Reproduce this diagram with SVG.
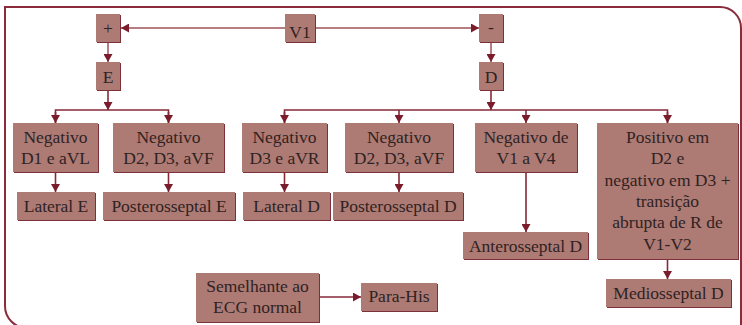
<svg xmlns="http://www.w3.org/2000/svg" width="742" height="325" viewBox="0 0 742 325">
  <style>
    .shadow { fill: #7d2f3a; }
    .box { fill: #ae7a74; }
    .lbl { font-family: "Liberation Serif", "DejaVu Serif", serif; font-size: 17.5px; fill: #2e2323; text-anchor: middle; }
    .frame { fill: none; stroke: #8a2c3c; stroke-width: 2; }
    .wire { fill: none; stroke: #852a38; stroke-width: 1.6; }
    .soft { fill: none; stroke: #b57f82; stroke-width: 2; }
  </style>
  <defs>
    <marker id="arrow" viewBox="0 0 8 9" refX="8" refY="4.5" markerWidth="8" markerHeight="9" markerUnits="userSpaceOnUse" orient="auto">
      <path d="M0,0 L8,4.5 L0,9 z" fill="#7a1c2c"/>
    </marker>
  </defs>

  <rect width="742" height="325" fill="#ffffff"/>

  <!-- outer frame with rounded top-right and bottom-left corners -->
  <path class="frame" d="M741,330 V28 A21,21 0 0 0 720,7 H5 V306 A22,22 0 0 0 27,328"/>

  <!-- connectors -->
  <g id="connectors">
    <line class="soft" x1="285" y1="28" x2="121" y2="28" marker-end="url(#arrow)"/>
    <line class="soft" x1="315" y1="28" x2="479" y2="28" marker-end="url(#arrow)"/>
    <line class="soft" x1="108" y1="42" x2="108" y2="62" marker-end="url(#arrow)"/>
    <line class="soft" x1="491" y1="42" x2="491" y2="62" marker-end="url(#arrow)"/>

    <line class="wire" x1="108" y1="90" x2="108" y2="110" marker-end="url(#arrow)"/>
    <polyline class="wire" points="55.5,123 55.5,110 168.5,110 168.5,123"/>
    <line class="wire" x1="55.5" y1="112" x2="55.5" y2="123" marker-end="url(#arrow)"/>
    <line class="wire" x1="168.5" y1="112" x2="168.5" y2="123" marker-end="url(#arrow)"/>

    <line class="wire" x1="491" y1="90" x2="491" y2="110" marker-end="url(#arrow)"/>
    <polyline class="wire" points="284.5,123 284.5,110 667.5,110 667.5,123"/>
    <line class="wire" x1="284.5" y1="112" x2="284.5" y2="123" marker-end="url(#arrow)"/>
    <line class="wire" x1="399" y1="110" x2="399" y2="123" marker-end="url(#arrow)"/>
    <line class="wire" x1="526" y1="110" x2="526" y2="123" marker-end="url(#arrow)"/>
    <line class="wire" x1="667.5" y1="112" x2="667.5" y2="123" marker-end="url(#arrow)"/>

    <line class="wire" x1="55.5" y1="172" x2="55.5" y2="192" marker-end="url(#arrow)"/>
    <line class="wire" x1="168.5" y1="172" x2="168.5" y2="192" marker-end="url(#arrow)"/>
    <line class="wire" x1="284.5" y1="172" x2="284.5" y2="192" marker-end="url(#arrow)"/>
    <line class="wire" x1="399" y1="172" x2="399" y2="192" marker-end="url(#arrow)"/>
    <line class="wire" x1="526" y1="172" x2="526" y2="232" marker-end="url(#arrow)"/>
    <line class="wire" x1="667.5" y1="259" x2="667.5" y2="279" marker-end="url(#arrow)"/>

    <line class="wire" x1="319" y1="297" x2="361" y2="297" marker-end="url(#arrow)"/>
  </g>

  <!-- top row -->
  <g id="plus">
    <rect class="shadow" x="97" y="15" width="24" height="28"/>
    <rect class="box" x="96" y="14" width="24" height="28"/>
    <text class="lbl" x="108" y="34">+</text>
  </g>
  <g id="v1">
    <rect class="shadow" x="286" y="15" width="30" height="28"/>
    <rect class="box" x="285" y="14" width="30" height="28"/>
    <text class="lbl" x="300" y="38">V1</text>
  </g>
  <g id="minus">
    <rect class="shadow" x="480" y="15" width="24" height="28"/>
    <rect class="box" x="479" y="14" width="24" height="28"/>
    <text class="lbl" x="491" y="33">-</text>
  </g>
  <g id="e">
    <rect class="shadow" x="97" y="63" width="24" height="28"/>
    <rect class="box" x="96" y="62" width="24" height="28"/>
    <text class="lbl" x="108" y="83">E</text>
  </g>
  <g id="d">
    <rect class="shadow" x="480" y="63" width="24" height="28"/>
    <rect class="box" x="479" y="62" width="24" height="28"/>
    <text class="lbl" x="491" y="83">D</text>
  </g>

  <!-- criteria row -->
  <g id="neg-d1-avl">
    <rect class="shadow" x="14" y="124" width="85" height="49"/>
    <rect class="box" x="13" y="123" width="85" height="49"/>
    <text class="lbl" x="55.5" y="143">Negativo</text>
    <text class="lbl" x="55.5" y="164">D1 e aVL</text>
  </g>
  <g id="neg-d2-d3-avf-e">
    <rect class="shadow" x="114" y="124" width="111" height="49"/>
    <rect class="box" x="113" y="123" width="111" height="49"/>
    <text class="lbl" x="168.5" y="143">Negativo</text>
    <text class="lbl" x="168.5" y="164">D2, D3, aVF</text>
  </g>
  <g id="neg-d3-avr">
    <rect class="shadow" x="243" y="124" width="85" height="49"/>
    <rect class="box" x="242" y="123" width="85" height="49"/>
    <text class="lbl" x="284.5" y="143">Negativo</text>
    <text class="lbl" x="284.5" y="164">D3 e aVR</text>
  </g>
  <g id="neg-d2-d3-avf-d">
    <rect class="shadow" x="346" y="124" width="108" height="49"/>
    <rect class="box" x="345" y="123" width="108" height="49"/>
    <text class="lbl" x="399" y="143">Negativo</text>
    <text class="lbl" x="399" y="164">D2, D3, aVF</text>
  </g>
  <g id="neg-v1-v4">
    <rect class="shadow" x="476" y="124" width="102" height="49"/>
    <rect class="box" x="475" y="123" width="102" height="49"/>
    <text class="lbl" x="526" y="143">Negativo de</text>
    <text class="lbl" x="526" y="164">V1 a V4</text>
  </g>
  <g id="pos-d2">
    <rect class="shadow" x="598" y="124" width="141" height="136"/>
    <rect class="box" x="597" y="123" width="141" height="136"/>
    <text class="lbl" x="667.5" y="143">Positivo em</text>
    <text class="lbl" x="667.5" y="164">D2 e</text>
    <text class="lbl" x="667.5" y="186">negativo em D3 +</text>
    <text class="lbl" x="667.5" y="207">transição</text>
    <text class="lbl" x="667.5" y="228">abrupta de R de</text>
    <text class="lbl" x="667.5" y="250">V1-V2</text>
  </g>

  <!-- result row -->
  <g id="lateral-e">
    <rect class="shadow" x="18" y="193" width="78" height="28"/>
    <rect class="box" x="17" y="192" width="78" height="28"/>
    <text class="lbl" x="56" y="212">Lateral E</text>
  </g>
  <g id="posterosseptal-e">
    <rect class="shadow" x="104" y="193" width="132" height="28"/>
    <rect class="box" x="103" y="192" width="132" height="28"/>
    <text class="lbl" x="169" y="212">Posterosseptal E</text>
  </g>
  <g id="lateral-d">
    <rect class="shadow" x="244" y="193" width="87" height="28"/>
    <rect class="box" x="243" y="192" width="87" height="28"/>
    <text class="lbl" x="286.5" y="212">Lateral D</text>
  </g>
  <g id="posterosseptal-d">
    <rect class="shadow" x="334" y="193" width="130" height="28"/>
    <rect class="box" x="333" y="192" width="130" height="28"/>
    <text class="lbl" x="398" y="212">Posterosseptal D</text>
  </g>
  <g id="anterosseptal-d">
    <rect class="shadow" x="464" y="233" width="125" height="27"/>
    <rect class="box" x="463" y="232" width="125" height="27"/>
    <text class="lbl" x="525.5" y="252">Anterosseptal D</text>
  </g>
  <g id="mediosseptal-d">
    <rect class="shadow" x="607" y="280" width="125" height="28"/>
    <rect class="box" x="606" y="279" width="125" height="28"/>
    <text class="lbl" x="668.5" y="299">Mediosseptal D</text>
  </g>

  <!-- bottom pair -->
  <g id="semelhante">
    <rect class="shadow" x="197" y="274" width="123" height="49"/>
    <rect class="box" x="196" y="273" width="123" height="49"/>
    <text class="lbl" x="257.5" y="292">Semelhante ao</text>
    <text class="lbl" x="257.5" y="313">ECG normal</text>
  </g>
  <g id="para-his">
    <rect class="shadow" x="362" y="284" width="76" height="28"/>
    <rect class="box" x="361" y="283" width="76" height="28"/>
    <text class="lbl" x="399" y="302">Para-His</text>
  </g>
</svg>
